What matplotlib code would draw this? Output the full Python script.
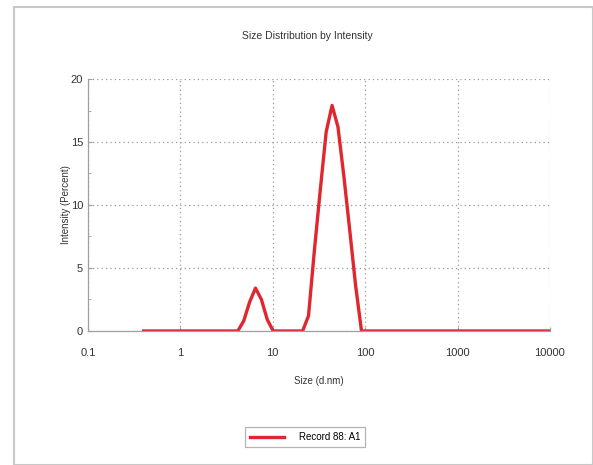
import matplotlib
matplotlib.use("Agg")
import matplotlib.pyplot as plt
from matplotlib.patches import Rectangle
from matplotlib.ticker import MultipleLocator, FixedLocator, FixedFormatter

plt.rcParams['font.family'] = ['Liberation Sans Narrow', 'Liberation Sans', 'DejaVu Sans']

# size bins (d.nm) and intensity (%)
size_nm = [0.4, 4.187, 4.849, 5.615, 6.503, 7.531, 8.721, 10.10,
           21.04, 24.36, 28.21, 32.67, 37.84, 43.82, 50.75, 58.77,
           68.06, 78.82, 91.28, 10000]
intensity = [0.0, 0.0, 0.8, 2.3, 3.4, 2.5, 0.9, 0.0,
             0.0, 1.2, 6.4, 11.2, 15.8, 17.9, 16.2, 12.3,
             8.0, 3.6, 0.0, 0.0]

x_ticks = [0.1, 1, 10, 100, 1000, 10000]
x_tick_labels = ['0.1', '1', '10', '100', '1000', '10000']
y_ticks = [0, 5, 10, 15, 20]

fig = plt.figure(figsize=(5.93, 4.65), dpi=100)
fig.patches.append(Rectangle((14/593, 0), 1 - 14/593, 1 - 7/465, transform=fig.transFigure,
                             fill=False, edgecolor='#c8c8c8', linewidth=1.5))

ax = fig.add_axes([0.1484, 0.2882, 0.779, 0.5419])
ax.plot(size_nm, intensity, color='#e0262f', linewidth=2.4, label='Record 88: A1')
ax.set_xscale('log')
ax.set_xlim(0.1, 10000)
ax.set_ylim(0, 20)
ax.xaxis.set_major_locator(FixedLocator(x_ticks))
ax.xaxis.set_major_formatter(FixedFormatter(x_tick_labels))
ax.xaxis.set_minor_locator(FixedLocator([]))
ax.yaxis.set_major_locator(FixedLocator(y_ticks))
ax.yaxis.set_minor_locator(MultipleLocator(2.5))

ax.grid(True, which='major', color='#9a9a9a', linestyle=(0, (1, 2.5)), linewidth=0.9)
for s in ['top', 'right']:
    ax.spines[s].set_visible(False)
for s in ['left', 'bottom']:
    ax.spines[s].set_color('#a0a0a0')
    ax.spines[s].set_linewidth(0.9)
ax.tick_params(which='both', direction='in', color='#a0a0a0', labelsize=8, labelcolor='#333333')
ax.tick_params(which='major', length=3)
ax.tick_params(which='minor', length=2)
ax.tick_params(axis='x', pad=12.5)

fig.text(307/593, 1 - 36/465, 'Size Distribution by Intensity', fontsize=7.5,
         color='#333333', ha='center', va='center')
ax.set_xlabel('Size (d.nm)', fontsize=7, color='#333333', labelpad=13)
ax.set_ylabel('Intensity (Percent)', fontsize=7, color='#333333', labelpad=0)

leg = fig.legend(loc='center', bbox_to_anchor=(305/593, 1 - 437/465), fontsize=7,
                 frameon=True, fancybox=False, edgecolor='#a0a0a0', handlelength=3.5,
                 borderpad=0.5, handletextpad=1.5)
leg.get_frame().set_linewidth(0.9)

fig.savefig('out.png', dpi=100)
